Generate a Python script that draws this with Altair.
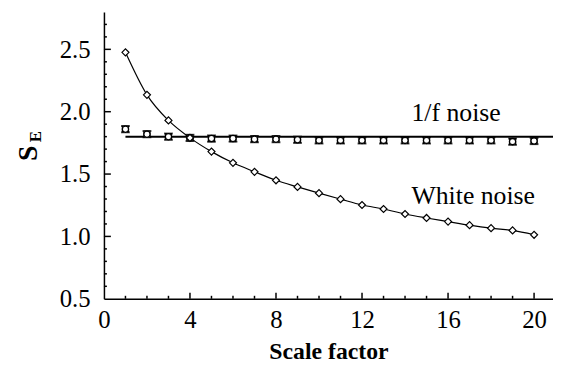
import altair as alt
import pandas as pd

scale_factor = list(range(1, 21))
white_se = [2.476, 2.135, 1.93, 1.79, 1.68, 1.59, 1.518, 1.45, 1.397, 1.347,
            1.299, 1.252, 1.22, 1.18, 1.148, 1.119, 1.09, 1.066, 1.048, 1.013]
pink_se = [1.86, 1.82, 1.80, 1.79, 1.785, 1.785, 1.78, 1.78, 1.775, 1.77,
           1.77, 1.77, 1.77, 1.77, 1.77, 1.77, 1.77, 1.77, 1.76, 1.765]
pink_err = [0.025] * 20
flat_x = [1, 20.88]
flat_y = [1.80, 1.80]

y_major = [1.0, 1.5, 2.0, 2.5]
y_minor = [0.6, 0.7, 0.8, 0.9, 1.1, 1.2, 1.3, 1.4, 1.6, 1.7, 1.8, 1.9,
           2.1, 2.2, 2.3, 2.4, 2.6, 2.7]
x_major = [4, 8, 12, 16, 20]
x_minor = [1, 2, 3, 5, 6, 7, 9, 10, 11, 13, 14, 15, 17, 18, 19]

W, H = 454, 290
FONT = "'Liberation Serif', 'Times New Roman', Times, serif"

xs = alt.Scale(domain=[0, 20.88], nice=False, zero=False)
ys = alt.Scale(domain=[0.5, 2.8], nice=False, zero=False)

def X(f="x"):
    return alt.X(f"{f}:Q", scale=xs, title="Scale factor",
                 axis=alt.Axis(values=[0, 4, 8, 12, 16, 20], ticks=False, grid=False,
                               labelPadding=9, titlePadding=7))

def Y(f="y"):
    return alt.Y(f"{f}:Q", scale=ys, title=None,
                 axis=alt.Axis(values=[0.5, 1.0, 1.5, 2.0, 2.5], ticks=False, grid=False,
                               labelPadding=14, format=".1f"))

white = pd.DataFrame({"x": scale_factor, "y": white_se})
pink = pd.DataFrame({"x": scale_factor, "y": pink_se,
                     "lo": [a - e for a, e in zip(pink_se, pink_err)],
                     "hi": [a + e for a, e in zip(pink_se, pink_err)]})
flat = pd.DataFrame({"x": flat_x, "y": flat_y})

white_line = alt.Chart(white).mark_line(interpolate="monotone", color="black",
                                        strokeWidth=1.2).encode(x=X(), y=Y())
white_pts = alt.Chart(white).mark_point(shape="diamond", filled=True, fill="white",
                                        stroke="black", strokeWidth=1.2, size=50,
                                        opacity=1).encode(x=X(), y=Y())
flat_line = alt.Chart(flat).mark_line(color="black", strokeWidth=2).encode(x=X(), y=Y())
err_rule = alt.Chart(pink).mark_rule(color="black", strokeWidth=1.5).encode(
    x=X(), y=Y("lo"), y2="hi")
cap_lo = alt.Chart(pink).mark_tick(orient="horizontal", color="black", size=9,
                                   thickness=2).encode(x=X(), y=Y("lo"))
cap_hi = alt.Chart(pink).mark_tick(orient="horizontal", color="black", size=9,
                                   thickness=2).encode(x=X(), y=Y("hi"))
sq_pts = alt.Chart(pink).mark_point(shape="square", filled=True, fill="white",
                                    stroke="black", strokeWidth=1.3, size=36,
                                    opacity=1).encode(x=X(), y=Y())
ci_pts = alt.Chart(pink).mark_point(shape="circle", filled=True, fill="white",
                                    stroke="black", strokeWidth=1.3, size=40,
                                    opacity=1).encode(x=X(), y=Y())

labels = pd.DataFrame({"x": [14.3, 14.3], "y": [1.925, 1.26],
                       "t": ["1/f noise", "White noise"]})
text = alt.Chart(labels).mark_text(font=FONT, fontSize=26, align="left",
                                   baseline="alphabetic", color="black").encode(
    x=X(), y=Y(), text="t:N")

ymaj = pd.DataFrame({"y": y_major})
ymin = pd.DataFrame({"y": y_minor})
xmaj = pd.DataFrame({"x": x_major})
xmin = pd.DataFrame({"x": x_minor})
yt1 = alt.Chart(ymaj).mark_rule(color="black", strokeWidth=1.5).encode(
    y=Y(), x=alt.value(0), x2=alt.value(7))
yt2 = alt.Chart(ymin).mark_rule(color="black", strokeWidth=1.5).encode(
    y=Y(), x=alt.value(0), x2=alt.value(3))
xt1 = alt.Chart(xmaj).mark_rule(color="black", strokeWidth=1.5).encode(
    x=X(), y=alt.value(H), y2=alt.value(H - 6))
xt2 = alt.Chart(xmin).mark_rule(color="black", strokeWidth=1.5).encode(
    x=X(), y=alt.value(H), y2=alt.value(H - 3))

ttl = pd.DataFrame({"t": ["S"]})
ttl2 = pd.DataFrame({"t": ["E"]})
s_title = alt.Chart(ttl).mark_text(font=FONT, fontSize=28, fontWeight="bold", angle=270,
                                   align="center", baseline="alphabetic",
                                   color="black").encode(
    text="t:N", x=alt.value(-68), y=alt.value(143))
e_title = alt.Chart(ttl2).mark_text(font=FONT, fontSize=17, fontWeight="bold", angle=270,
                                    align="center", baseline="alphabetic",
                                    color="black").encode(
    text="t:N", x=alt.value(-64), y=alt.value(126))

chart = alt.layer(
    yt1, yt2, xt1, xt2, white_line, flat_line, err_rule, cap_lo, cap_hi,
    sq_pts, ci_pts, white_pts, text, s_title, e_title
).properties(
    width=W, height=H,
    autosize=alt.AutoSizeParams(type="none"),
    padding={"left": 97, "top": 2, "right": 0, "bottom": 67},
).configure_view(stroke=None).configure_axis(
    domainColor="black", domainWidth=1.5, labelFont=FONT, labelFontSize=25,
    labelColor="black", titleFont=FONT, titleFontSize=24, titleFontWeight="bold",
    titleColor="black", labelFlush=False
)

chart.save("out.html", embed_options={"renderer": "svg", "actions": False})
